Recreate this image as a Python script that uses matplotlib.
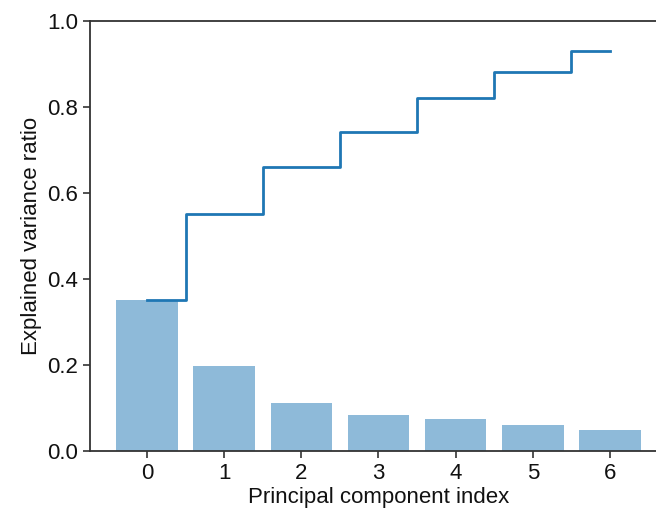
import matplotlib
matplotlib.use("Agg")
import matplotlib.pyplot as plt

plt.rcParams["font.family"] = ["Liberation Sans", "DejaVu Sans"]

components = [0, 1, 2, 3, 4, 5, 6]
explained = [0.351, 0.198, 0.112, 0.084, 0.074, 0.060, 0.049]
cumulative = [0.352, 0.550, 0.661, 0.743, 0.820, 0.881, 0.930]

fig = plt.figure(figsize=(6.56, 5.12), dpi=100)
ax = fig.add_axes([90 / 656, 61 / 512, 577 / 656, 430 / 512])

ax.bar(components, explained, width=0.8, alpha=0.5, color="#1f77b4")
ax.step(components, cumulative, where="mid", color="#1f77b4", linewidth=2)

ax.set_ylim(0, 1.0)
ax.set_xlim(-0.74, 6.74)
ax.set_xticks(components)
ax.set_yticks([0.0, 0.2, 0.4, 0.6, 0.8, 1.0])
ax.tick_params(labelsize=16, length=5, width=1.2, color="#333333", labelcolor="#111111")
for s in ax.spines.values():
    s.set_linewidth(1.3)
    s.set_color("#333333")
ax.set_xlabel("Principal component index", fontsize=16, labelpad=2, color="#111111")
ax.set_ylabel("Explained variance ratio", fontsize=16, color="#111111")

fig.savefig("out.png", dpi=100)
